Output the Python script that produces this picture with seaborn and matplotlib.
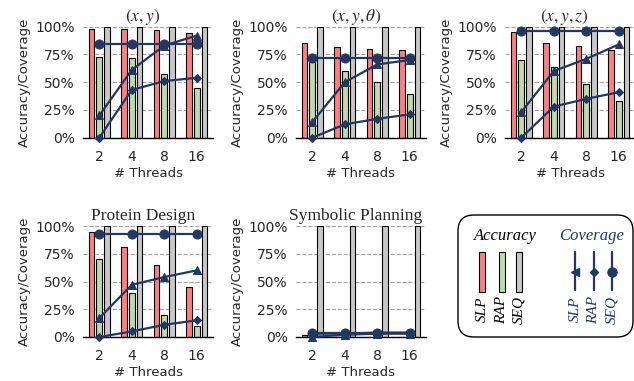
import numpy as np
import pandas as pd
import matplotlib
matplotlib.use('Agg')
import matplotlib.pyplot as plt
import seaborn as sns
from matplotlib.patches import FancyBboxPatch, Rectangle
from matplotlib.lines import Line2D

threads = ['2', '4', '8', '16']
methods = ['SLP', 'RAP', 'SEQ']
titles = [r'$(x, y)$', r'$(x, y, \theta)$', r'$(x, y, z)$', 'Protein Design', 'Symbolic Planning']

# accuracy (bars), one row per panel
acc_slp = [[98, 98, 97, 94], [85, 82, 80, 79], [95, 85, 83, 79], [95, 81, 65, 45], [1.5, 0, 0, 0]]
acc_rap = [[73, 72, 57, 45], [71, 60, 50, 39], [70, 64, 48, 33], [70, 40, 20, 10], [0, 0, 0, 0]]
acc_seq = [[100, 100, 100, 100]] * 5

# coverage (lines)
cov_slp = [[20, 61, 83, 92], [14, 50, 66, 70], [23, 60, 71, 84], [17, 47, 54, 60], [0, 2, 3, 3]]
cov_rap = [[0, 43, 51, 54], [0, 12, 17, 21], [0, 28, 35, 41], [0, 5, 11, 15], [3, 3, 4, 4]]
cov_seq = [[84, 84, 84, 84], [72, 72, 72, 72], [96, 96, 96, 96], [93, 93, 93, 93], [4, 4, 4, 4]]

bar_colors = ['#FF7F7F', '#BDDAA8', '#C8C8C8']
navy = '#203864'

sns.set_style('white')
plt.rcParams['font.family'] = ['DejaVu Sans']
plt.rcParams['mathtext.fontset'] = 'stix'

W, H = 634, 381
fig = plt.figure(figsize=(W / 100, H / 100), dpi=100)

# axes boxes in pixels: left, top
boxes = [(83, 26.7), (296, 26.7), (505, 26.7), (83, 226), (296, 226)]
aw, ah = 130, 111

for i, (px, py) in enumerate(boxes):
    ax = fig.add_axes([px / W, 1 - (py + ah) / H, aw / W, ah / H])
    df = pd.DataFrame({
        'threads': threads * 3,
        'method': np.repeat(methods, 4),
        'acc': acc_slp[i] + acc_rap[i] + acc_seq[i],
    })
    sns.barplot(data=df, x='threads', y='acc', hue='method', order=threads,
                hue_order=methods, palette=bar_colors, width=0.72, gap=0.25,
                edgecolor='black', linewidth=0.8, saturation=1, legend=False,
                ax=ax, zorder=2)
    xs = np.arange(len(threads))
    for vals, mk, ms in [(cov_seq[i], 'o', 6.5), (cov_rap[i], 'D', 4.5), (cov_slp[i], '^', 6)]:
        sns.lineplot(x=xs, y=vals, color=navy, marker=mk, markersize=ms,
                     markeredgecolor=navy, linewidth=1.6, ax=ax, zorder=3,
                     clip_on=False)
    ax.set_xlim(-0.5, 3.5)
    ax.set_ylim(0, 100)
    ax.set_yticks([0, 25, 50, 75, 100])
    ax.set_yticklabels(['0%', '25%', '50%', '75%', '100%'])
    ax.yaxis.grid(True, linestyle='--', color='#A0A0A0', linewidth=0.8)
    ax.set_axisbelow(True)
    ax.tick_params(axis='y', length=0, labelsize=10, pad=6)
    ax.tick_params(axis='x', length=0, labelsize=10, pad=9)
    sns.despine(ax=ax, left=True)
    ax.spines['bottom'].set_color('black')
    ax.spines['bottom'].set_linewidth(1.0)
    ax.set_xlabel('# Threads', fontsize=9.5, labelpad=2)
    ax.set_ylabel('Accuracy/Coverage', fontsize=9.5, labelpad=3)
    ax.set_title(titles[i], fontsize=12.5, family='Liberation Serif', pad=4, x=0.46)

# legend panel, drawn in pixel coordinates
lg = fig.add_axes([0, 0, 1, 1])
lg.set_xlim(0, W)
lg.set_ylim(H, 0)
lg.axis('off')
lg.add_patch(FancyBboxPatch((458, 215), 175, 122, boxstyle='round,pad=0,rounding_size=16',
                            facecolor='white', edgecolor='black', linewidth=1.0))
lg.text(505, 236, 'Accuracy', fontsize=12, family='Liberation Serif', style='italic',
        ha='center', va='center', color='black')
lg.text(592, 236, 'Coverage', fontsize=12, family='Liberation Serif', style='italic',
        ha='center', va='center', color=navy)
for x, c, m in zip([482, 502, 519], bar_colors, methods):
    lg.add_patch(Rectangle((x - 3, 252), 6, 40, facecolor=c, edgecolor='black', linewidth=0.8))
    lg.text(x, 296, m, fontsize=11, family='Liberation Serif', style='italic', rotation=90,
            ha='center', va='top', color='black')
for x, mk, ms, m in zip([575, 594, 612], ['<', 'D', 'o'], [6, 4.5, 6.5], methods):
    lg.add_line(Line2D([x, x], [252, 290], color=navy, linewidth=1.6))
    lg.add_line(Line2D([x], [272], color=navy, marker=mk, markersize=ms))
    lg.text(x, 296, m, fontsize=11, family='Liberation Serif', style='italic', rotation=90,
            ha='center', va='top', color=navy)

fig.savefig('out.png', dpi=100)
